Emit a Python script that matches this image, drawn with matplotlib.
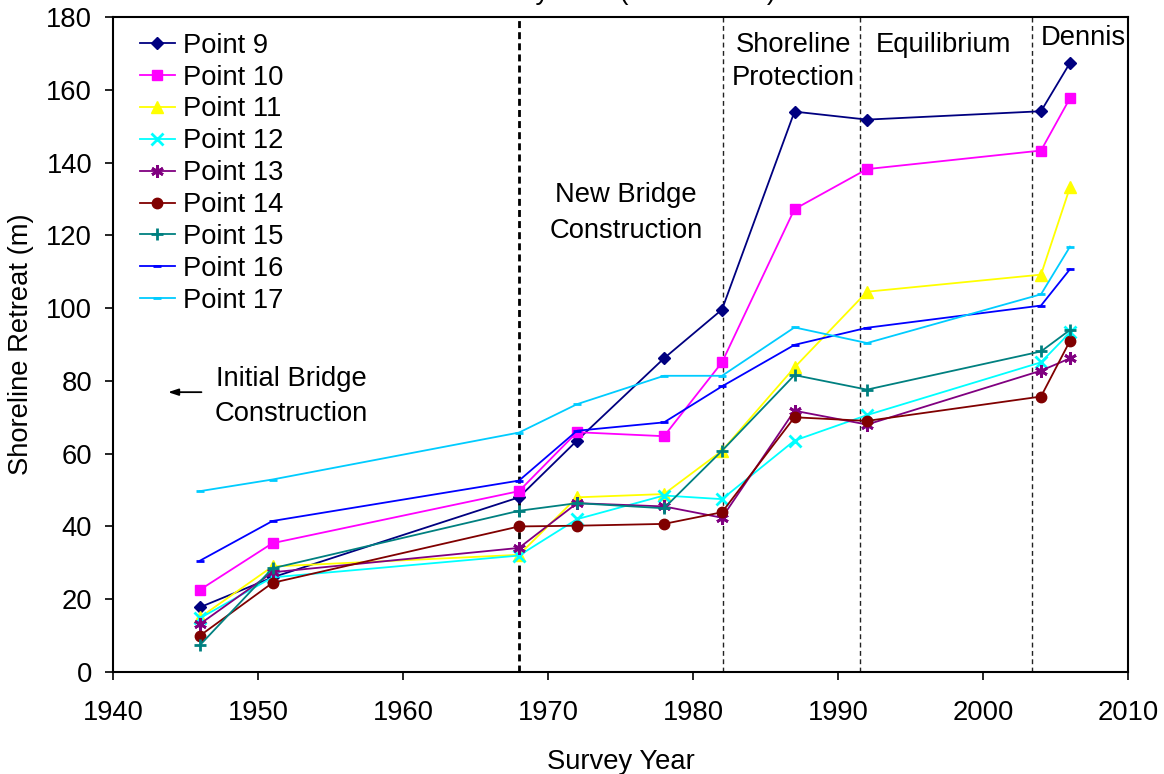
import matplotlib
matplotlib.use("Agg")
import matplotlib.pyplot as plt

plt.rcParams['font.family'] = ['Liberation Sans', 'DejaVu Sans']

years = [1946, 1951, 1968, 1972, 1978, 1982, 1987, 1992, 2004, 2006]

point9 = [17.8, 26.0, 48.0, 63.6, 86.2, 99.6, 154.0, 151.8, 154.1, 167.4]
point10 = [22.6, 35.4, 49.7, 65.9, 64.8, 85.1, 127.2, 138.2, 143.3, 157.7]
point11 = [15.0, 29.0, 32.2, 48.0, 48.9, 60.8, 83.7, 104.5, 109.2, 133.2]
point12 = [14.8, 26.0, 32.0, 42.0, 48.5, 47.5, 63.6, 70.6, 85.1, 93.3]
point13 = [13.2, 27.4, 34.1, 46.4, 45.5, 42.4, 71.8, 68.0, 82.8, 86.2]
point14 = [10.0, 24.5, 40.0, 40.2, 40.7, 43.9, 70.0, 69.0, 75.7, 91.0]
point15 = [7.4, 28.5, 44.3, 46.4, 45.0, 60.8, 81.6, 77.6, 88.1, 94.0]
point16 = [30.6, 41.5, 52.6, 66.3, 68.6, 78.5, 89.9, 94.6, 100.7, 110.7]
point17 = [49.7, 52.9, 65.8, 73.6, 81.4, 81.4, 94.7, 90.4, 103.8, 116.9]

series_labels = ['Point 9', 'Point 10', 'Point 11', 'Point 12', 'Point 13',
                 'Point 14', 'Point 15', 'Point 16', 'Point 17']
series_values = [point9, point10, point11, point12, point13,
                 point14, point15, point16, point17]

epoch_boundaries = [1968, 1982.1, 1991.5, 2003.4]

colors = ['#000080', '#FF00FF', '#FFFF00', '#00FFFF', '#800080',
          '#800000', '#008080', '#0000FF', '#00CCFF']
markers = ['D', 's', '^', 'x', (6, 2, 0), 'o', '+', '_', '_']
msizes = [6.5, 7.5, 8, 8, 9, 7.5, 9, 6, 6]

fig = plt.figure(figsize=(11.64, 7.74), dpi=100)
W, H = 1164, 774
ax = fig.add_axes([113 / W, (H - 672) / H, (1128 - 113) / W, (672 - 17) / H])

# vertical dashed epoch lines
for i, xb in enumerate(epoch_boundaries):
    if i == 0:
        ax.axvline(xb, color='black', lw=2.0, dashes=(2.5, 1.5), zorder=1)
    else:
        ax.axvline(xb, color='#222222', lw=1.0, dashes=(3.5, 2.5), zorder=1)

for lab, vals, c, m, ms in zip(series_labels, series_values, colors, markers, msizes):
    ax.plot(years, vals, color=c, marker=m, markersize=ms, lw=1.3,
            markeredgewidth=2 if m in ('x', '+', '_', (6, 2, 0)) else 1,
            markerfacecolor=c, markeredgecolor=c, label=lab, zorder=3,
            clip_on=False)

ax.set_xlim(1940, 2010)
ax.set_ylim(0, 180)
ax.set_xticks(range(1940, 2011, 10))
ax.set_yticks(range(0, 181, 20))

fs = 19.7
ax.tick_params(axis='both', direction='out', length=6, width=1.2, labelsize=fs)
ax.tick_params(axis='y', pad=9)
ax.tick_params(axis='x', pad=14)
for sp in ax.spines.values():
    sp.set_linewidth(1.5)

ax.set_xlabel('Survey Year', fontsize=fs, labelpad=17)
ax.set_ylabel('Shoreline Retreat (m)', fontsize=fs, labelpad=9)

leg = ax.legend(loc='upper left', bbox_to_anchor=(13 / 1015, 1 - 2 / 655),
                frameon=False, fontsize=fs, handlelength=1.3,
                handletextpad=0.3, labelspacing=0.215, borderaxespad=0.2,
                borderpad=0.3)

ax.text(1952.3, 75.6, 'Initial Bridge\nConstruction', fontsize=fs,
        ha='center', va='center', linespacing=1.45)
ax.annotate('', xy=(1943.8, 76.9), xytext=(1946.1, 76.9),
            arrowprops=dict(arrowstyle='-|>,head_length=0.6,head_width=0.2',
                            color='black', lw=1.3, shrinkA=0, shrinkB=0))
ax.text(1975.4, 126.2, 'New Bridge\nConstruction', fontsize=fs,
        ha='center', va='center', linespacing=1.5)
ax.text(1986.9, 167.8, 'Shoreline\nProtection', fontsize=fs,
        ha='center', va='center', linespacing=1.38)
ax.text(1997.3, 172.3, 'Equilibrium', fontsize=fs, ha='center', va='center')
ax.text(2006.9, 174.3, 'Dennis', fontsize=fs, ha='center', va='center')

# title cut off at top of image
fig.text(620 / W, 1.0 + 1.0 / H, 'Survey Year (Points 9-17)', fontsize=fs,
         ha='center', va='baseline')

fig.savefig('out.png', dpi=100)
